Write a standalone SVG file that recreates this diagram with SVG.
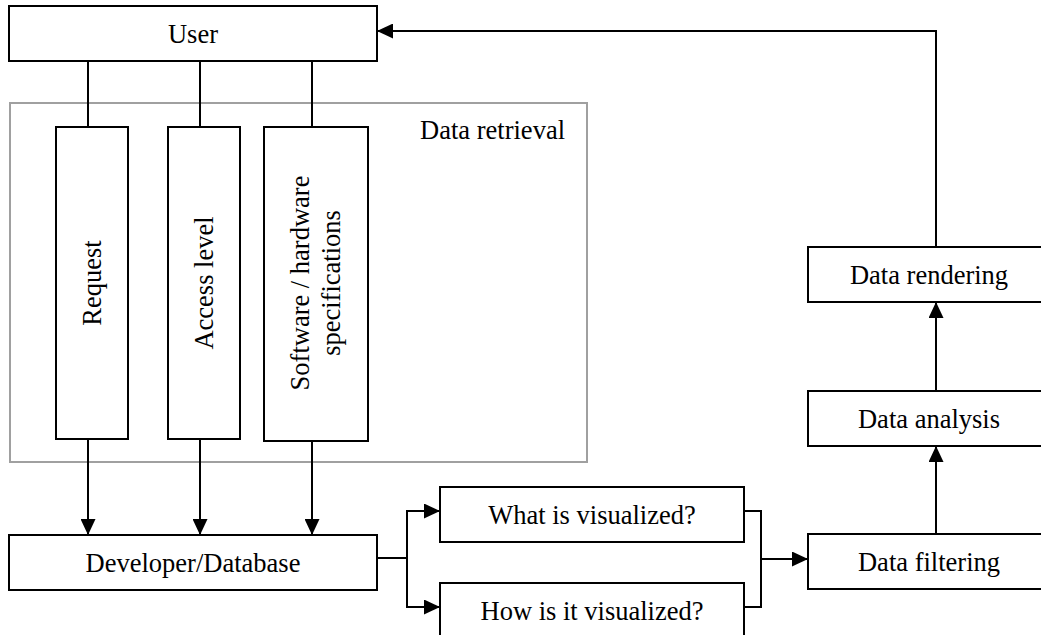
<svg xmlns="http://www.w3.org/2000/svg" width="1041" height="635" viewBox="0 0 1041 635">
<defs>
<style>
.box{fill:#fff;stroke:#000;stroke-width:2}
.grp{fill:none;stroke:#a0a0a0;stroke-width:2}
.t{font-family:"Liberation Serif","Times New Roman",serif;font-size:26.5px;fill:#000;text-anchor:middle}
.c{fill:none;stroke:#000;stroke-width:2}
.a{marker-end:url(#arr)}
</style>
<marker id="arr" markerUnits="userSpaceOnUse" markerWidth="16" markerHeight="15" refX="16" refY="7.5" orient="auto">
<path d="M0,0 L16,7.5 L0,15 z" fill="#000"/>
</marker>
</defs>
<rect width="1041" height="635" fill="#fff"/>
<g id="data-retrieval">
<rect class="grp" x="10" y="103" width="577" height="359"/>
<text class="t" x="565" y="139" style="text-anchor:end">Data retrieval</text>
</g>
<g id="connectors">
<line class="c" x1="88" y1="61" x2="88" y2="127"/>
<line class="c" x1="200" y1="61" x2="200" y2="127"/>
<line class="c" x1="312" y1="61" x2="312" y2="127"/>
<line class="c a" x1="88" y1="439" x2="88" y2="535"/>
<line class="c a" x1="200" y1="439" x2="200" y2="535"/>
<line class="c a" x1="312" y1="441" x2="312" y2="535"/>
<polyline class="c" points="377,558 407,558"/>
<polyline class="c a" points="407,558 407,511 440,511"/>
<polyline class="c a" points="407,558 407,607 440,607"/>
<polyline class="c" points="744,511 761,511 761,607 744,607"/>
<line class="c a" x1="761" y1="559" x2="808" y2="559"/>
<line class="c a" x1="936" y1="534" x2="936" y2="446"/>
<line class="c a" x1="936" y1="391" x2="936" y2="302"/>
<polyline class="c a" points="936,247 936,31 377,31"/>
</g>
<g id="user">
<rect class="box" x="9" y="6" width="368" height="55"/>
<text class="t" x="193" y="42.5">User</text>
</g>
<g id="request">
<rect class="box" x="56" y="127" width="72" height="312"/>
<text class="t" transform="translate(101,283) rotate(-90)">Request</text>
</g>
<g id="access-level">
<rect class="box" x="168" y="127" width="72" height="312"/>
<text class="t" transform="translate(213,283) rotate(-90)">Access level</text>
</g>
<g id="software-hardware">
<rect class="box" x="264" y="127" width="104" height="314"/>
<text class="t" transform="translate(309,283) rotate(-90)">Software / hardware</text>
<text class="t" transform="translate(340,283) rotate(-90)">specifications</text>
</g>
<g id="developer-database">
<rect class="box" x="9" y="535" width="368" height="55"/>
<text class="t" x="193" y="571.5">Developer/Database</text>
</g>
<g id="what-visualized">
<rect class="box" x="440" y="487" width="304" height="55"/>
<text class="t" x="592" y="524">What is visualized?</text>
</g>
<g id="how-visualized">
<rect class="box" x="440" y="583" width="304" height="55"/>
<text class="t" x="592" y="619.5">How is it visualized?</text>
</g>
<g id="data-filtering">
<rect class="box" x="808" y="534" width="242" height="55"/>
<text class="t" x="929" y="570.5">Data filtering</text>
</g>
<g id="data-analysis">
<rect class="box" x="808" y="391" width="242" height="55"/>
<text class="t" x="929" y="427.5">Data analysis</text>
</g>
<g id="data-rendering">
<rect class="box" x="808" y="247" width="242" height="55"/>
<text class="t" x="929" y="283.5">Data rendering</text>
</g>
</svg>
